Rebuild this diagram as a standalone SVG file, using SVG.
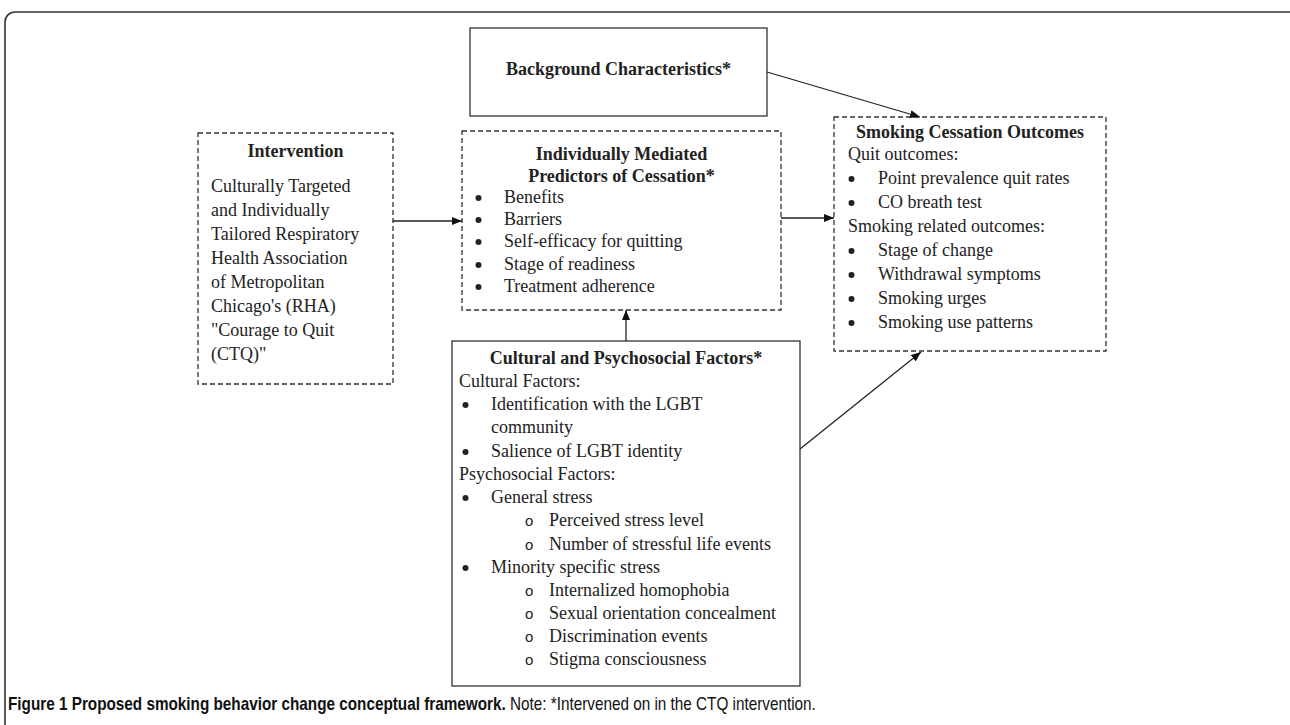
<svg xmlns="http://www.w3.org/2000/svg" width="1290" height="725" viewBox="0 0 1290 725">
<defs>
<marker id="ah" viewBox="0 0 10 8" refX="10" refY="4" markerWidth="10" markerHeight="8" markerUnits="userSpaceOnUse" orient="auto">
<path d="M0,0 L10,4 L0,8 Z" fill="#111"/>
</marker>
<style>
.frame{fill:none;stroke:#333;stroke-width:1.6}
.solid{fill:#fff;stroke:#333;stroke-width:1.3}
.dash{fill:#fff;stroke:#333;stroke-width:1.3;stroke-dasharray:5,3}
.conn{fill:none;stroke:#222;stroke-width:1.3}
.dot{fill:#222}
text{font-family:"Liberation Serif","Times New Roman",serif;font-size:18px;fill:#222}
.b{font-weight:bold}
.c{text-anchor:middle}
.o{font-family:"Liberation Sans",Arial,sans-serif;font-size:15px}
.cap{font-family:"Liberation Sans",Arial,sans-serif;font-size:18px;fill:#111}
</style>
</defs>
<rect class="frame" x="5" y="12" width="1300" height="740" rx="10"/>

<g id="background">
<rect class="solid" x="470" y="28" width="297" height="88"/>
<text class="b c" x="618.5" y="75">Background Characteristics*</text>
</g>

<g id="intervention">
<rect class="dash" x="198" y="133" width="195" height="251"/>
<text class="b c" x="295.5" y="157">Intervention</text>
<text x="211" y="192">Culturally Targeted</text>
<text x="211" y="216">and Individually</text>
<text x="211" y="240">Tailored Respiratory</text>
<text x="211" y="264">Health Association</text>
<text x="211" y="288">of Metropolitan</text>
<text x="211" y="312">Chicago's (RHA)</text>
<text x="211" y="336">"Courage to Quit</text>
<text x="211" y="360">(CTQ)"</text>
</g>

<g id="mediated">
<rect class="dash" x="462" y="131" width="319" height="179"/>
<text class="b c" x="621.5" y="160">Individually Mediated</text>
<text class="b c" x="621.5" y="182">Predictors of Cessation*</text>
<circle class="dot" cx="478.5" cy="198" r="3"/><text x="504" y="203">Benefits</text>
<circle class="dot" cx="478.5" cy="220" r="3"/><text x="504" y="225">Barriers</text>
<circle class="dot" cx="478.5" cy="242" r="3"/><text x="504" y="247">Self-efficacy for quitting</text>
<circle class="dot" cx="478.5" cy="265" r="3"/><text x="504" y="270">Stage of readiness</text>
<circle class="dot" cx="478.5" cy="287" r="3"/><text x="504" y="292">Treatment adherence</text>
</g>

<g id="outcomes">
<rect class="dash" x="834" y="117" width="272" height="234"/>
<text class="b c" x="970" y="138">Smoking Cessation Outcomes</text>
<text x="848" y="160">Quit outcomes:</text>
<circle class="dot" cx="851.5" cy="179" r="3"/><text x="878" y="184">Point prevalence quit rates</text>
<circle class="dot" cx="851.5" cy="203" r="3"/><text x="878" y="208">CO breath test</text>
<text x="848" y="232">Smoking related outcomes:</text>
<circle class="dot" cx="851.5" cy="251" r="3"/><text x="878" y="256">Stage of change</text>
<circle class="dot" cx="851.5" cy="275" r="3"/><text x="878" y="280">Withdrawal symptoms</text>
<circle class="dot" cx="851.5" cy="299" r="3"/><text x="878" y="304">Smoking urges</text>
<circle class="dot" cx="851.5" cy="323" r="3"/><text x="878" y="328">Smoking use patterns</text>
</g>

<g id="cultural">
<rect class="solid" x="452" y="341" width="348" height="345"/>
<text class="b c" x="626" y="364">Cultural and Psychosocial Factors*</text>
<text x="459" y="387">Cultural Factors:</text>
<circle class="dot" cx="465.5" cy="405" r="3"/><text x="491" y="410">Identification with the LGBT</text>
<text x="491" y="433">community</text>
<circle class="dot" cx="465.5" cy="452" r="3"/><text x="491" y="457">Salience of LGBT identity</text>
<text x="459" y="480">Psychosocial Factors:</text>
<circle class="dot" cx="465.5" cy="498" r="3"/><text x="491" y="503">General stress</text>
<text class="o" x="525" y="526">o</text><text x="549" y="526">Perceived stress level</text>
<text class="o" x="525" y="550">o</text><text x="549" y="550">Number of stressful life events</text>
<circle class="dot" cx="465.5" cy="568" r="3"/><text x="491" y="573">Minority specific stress</text>
<text class="o" x="525" y="596">o</text><text x="549" y="596">Internalized homophobia</text>
<text class="o" x="525" y="619">o</text><text x="549" y="619">Sexual orientation concealment</text>
<text class="o" x="525" y="642">o</text><text x="549" y="642">Discrimination events</text>
<text class="o" x="525" y="665">o</text><text x="549" y="665">Stigma consciousness</text>
</g>

<g id="connectors">
<line class="conn" x1="767" y1="72" x2="920" y2="117" marker-end="url(#ah)"/>
<line class="conn" x1="393" y1="221" x2="462" y2="221" marker-end="url(#ah)"/>
<line class="conn" x1="781" y1="218" x2="834" y2="218" marker-end="url(#ah)"/>
<line class="conn" x1="626" y1="341" x2="626" y2="310" marker-end="url(#ah)"/>
<line class="conn" x1="800" y1="449" x2="921" y2="352" marker-end="url(#ah)"/>
</g>

<g id="caption" transform="translate(8,710) scale(0.85,1)">
<text class="cap" x="0" y="0"><tspan font-weight="bold">Figure 1 Proposed smoking behavior change conceptual framework.</tspan> Note: *Intervened on in the CTQ intervention.</text>
</g>
</svg>
